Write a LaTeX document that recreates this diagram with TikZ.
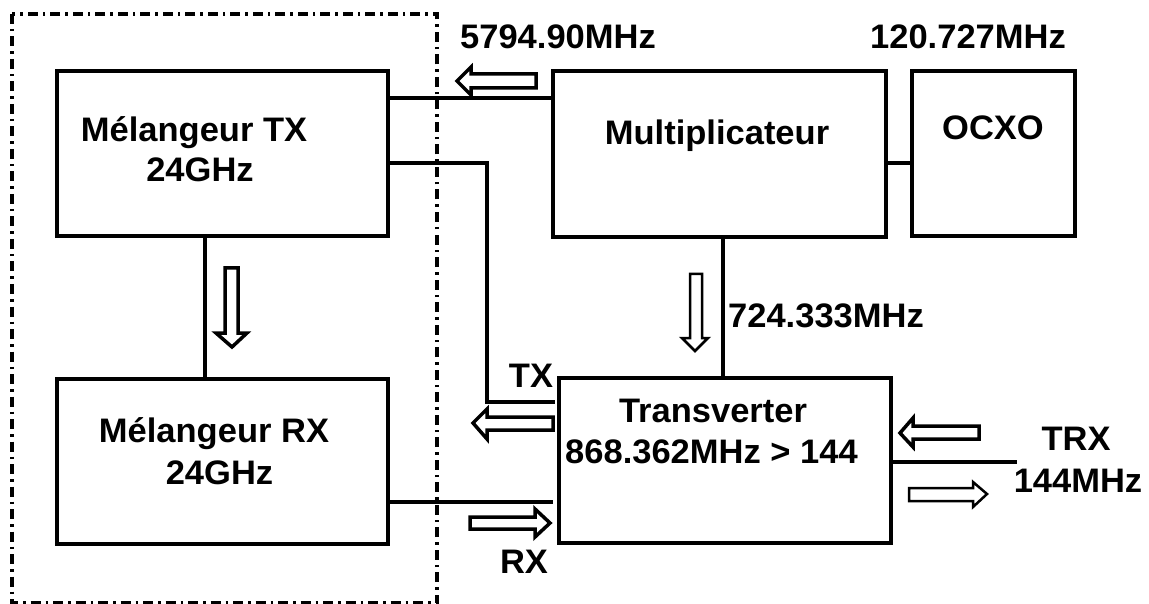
\documentclass[tikz,border=0pt]{standalone}
\usepackage{fontspec}
\setmainfont{Liberation Sans}[FakeStretch=1.015]
\begin{document}
\begin{tikzpicture}[x=1pt,y=-1pt,
  box/.style={draw, line width=3.5pt, inner sep=0pt},
  lbl/.style={font=\fontsize{34}{34}\selectfont\bfseries, anchor=base, inner sep=0pt},
  wire/.style={line width=3.5pt},
  harrow/.style={draw, line width=3.5pt, fill=white, line join=miter},
  tharrow/.style={draw, line width=2.5pt, fill=white, line join=miter},
  frame/.style={line width=4pt, dash pattern=on 10pt off 5pt on 2.5pt off 5pt}]
\useasboundingbox (0,0) rectangle (1149,604);
% frame
\draw[frame] (12,14) rectangle (437,603);
% boxes
\node[box, minimum width=331pt, minimum height=165pt] (mtx) at (222.5,153.5) {};
\node[box, minimum width=331pt, minimum height=165pt] (mrx) at (222.5,461.5) {};
\node[box, minimum width=333pt, minimum height=166pt] (mult) at (719.5,154) {};
\node[box, minimum width=163pt, minimum height=165pt] (ocxo) at (993.5,153.5) {};
\node[box, minimum width=332pt, minimum height=165pt] (trv) at (725,460.5) {};
% texts
\node[lbl] (tmtx1) at (194,142) {Mélangeur TX};
\node[lbl] (tmtx2) at (200,182) {24GHz};
\node[lbl] (tmrx1) at (214,442) {Mélangeur RX};
\node[lbl] (tmrx2) at (219.5,484) {24GHz};
\node[lbl] (tmult) at (717,145) {Multiplicateur};
\node[lbl] (tocxo) at (993,140) {OCXO};
\node[lbl] (ttrv1) at (713,422) {Transverter};
\node[lbl] (ttrv2) at (711.5,463) {868.362MHz > 144};
\node[lbl] (tf1) at (558,49) {5794.90MHz};
\node[lbl] (tf2) at (968,49) {120.727MHz};
\node[lbl] (tf3) at (826,327) {724.333MHz};
\node[lbl] (ttx) at (531,387) {TX};
\node[lbl] (trx) at (524,573) {RX};
\node[lbl] (ttrx) at (1076,450) {TRX};
\node[lbl] (tf4) at (1078,492) {144MHz};
% wires
\coordinate (trxend) at (1017,462);
\coordinate (txbend) at (487,402);
\draw[wire] (mtx.east |- 0,98) -- (mult.west |- 0,98);
\draw[wire] (mtx.east |- 0,163) -| (txbend) -- ([xshift=-2pt]trv.west |- 0,402);
\draw[wire] (mrx.east |- 0,502) -- ([xshift=-4pt]trv.west |- 0,502);
\draw[wire] (mtx.south -| 205,0) -- (mrx.north -| 205,0);
\draw[wire] (mult.south -| 723,0) -- (trv.north -| 723,0);
\draw[wire] ([xshift=-4pt]mult.east |- 0,163) -- (ocxo.west |- 0,163);
\draw[wire] (trv.east |- 0,462) -- (trxend);
% hollow arrows
\draw[harrow] (457,81) -- (471,67) -- (471,74) -- (536,74) -- (536,88) -- (471,88) -- (471,95) -- cycle;
\draw[harrow] (473,423) -- (487,409) -- (487,417) -- (553,417) -- (553,430) -- (487,430) -- (487,439) -- cycle;
\draw[harrow] (550,523) -- (535,509) -- (535,517) -- (470,517) -- (470,529) -- (535,529) -- (535,537) -- cycle;
\draw[harrow] (900,433) -- (913,418) -- (913,426) -- (979,426) -- (979,439) -- (913,439) -- (913,447) -- cycle;
\draw[tharrow] (987,494) -- (973,482) -- (973,488) -- (909,488) -- (909,501) -- (973,501) -- (973,507) -- cycle;
\draw[tharrow] (695,351) -- (682,338) -- (690,338) -- (690,274) -- (702,274) -- (702,338) -- (708,338) -- cycle;
\draw[harrow] (232,347) -- (216,333) -- (225,333) -- (225,268) -- (238,268) -- (238,333) -- (247,333) -- cycle;
\end{tikzpicture}
\end{document}
